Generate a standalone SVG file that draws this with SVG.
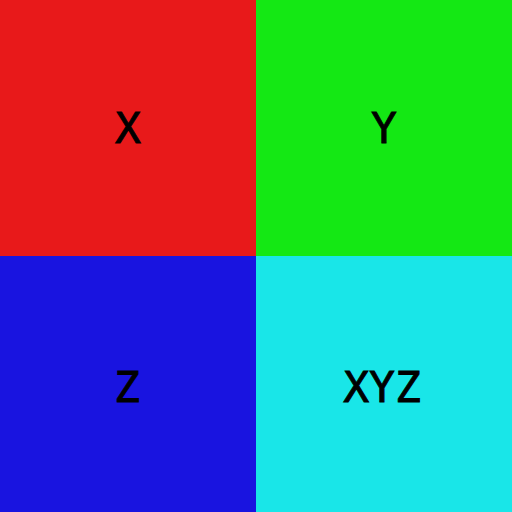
<svg xmlns="http://www.w3.org/2000/svg" width="512" height="512" viewBox="0 0 512 512">
<style>
.t{font-family:"DejaVu Sans Mono",monospace;font-size:43px;fill:#000;stroke:#000;stroke-width:0.9px;text-anchor:middle}
</style>
<g id="X"><rect x="0" y="0" width="256" height="256" fill="#E8191A"/><text class="t" x="128" y="143">X</text></g>
<g id="Y"><rect x="256" y="0" width="256" height="256" fill="#14E814"/><text class="t" x="384" y="143">Y</text></g>
<g id="Z"><rect x="0" y="256" width="256" height="256" fill="#1914E0"/><text class="t" x="127" y="402">Z</text></g>
<g id="XYZ"><rect x="256" y="256" width="256" height="256" fill="#19E6E8"/><text class="t" x="382" y="402">XYZ</text></g>
</svg>
